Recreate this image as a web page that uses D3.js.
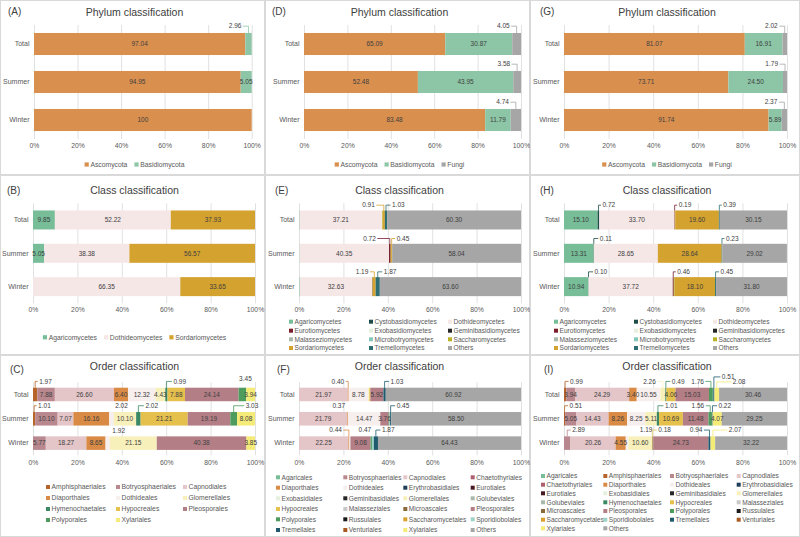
<!DOCTYPE html>
<html>
<head>
<meta charset="utf-8"/>
<script src="https://d3js.org/d3.v7.min.js"></script>
<style>
    body { margin: 0; background: #fff; }
    svg { display: block; font-family: "Liberation Sans", Arial, sans-serif; }
</style>
</head>
<body>
<script>
    var width = 800, height = 537;

    // categories on the y axis of every panel
    var seasons = ["Total", "Summer", "Winter"];
    var xTicks = [0, 20, 40, 60, 80, 100];

    // (A) phylum
    var phylumA = ["Ascomycota", "Basidiomycota"];
    var valuesA = [
        {Ascomycota: 97.04, Basidiomycota: 2.96},
        {Ascomycota: 94.95, Basidiomycota: 5.05},
        {Ascomycota: 100}
    ];

    // (B) class
    var classB = ["Agaricomycetes", "Dothideomycetes", "Sordariomycetes"];
    var valuesB = [
        {Agaricomycetes: 9.85, Dothideomycetes: 52.22, Sordariomycetes: 37.93},
        {Agaricomycetes: 5.05, Dothideomycetes: 38.38, Sordariomycetes: 56.57},
        {Dothideomycetes: 66.35, Sordariomycetes: 33.65}
    ];

    // (C) order
    var orderC = ["Amphisphaeriales", "Botryosphaeriales", "Capnodiales", "Diaporthales", "Dothideales",
        "Glomerellales", "Hymenochaetales", "Hypocreales", "Pleosporales", "Polyporales", "Xylariales"];
    var valuesC = [
        {Amphisphaeriales: 1.97, Botryosphaeriales: 7.88, Capnodiales: 26.60, Diaporthales: 6.40, Dothideales: 12.32,
            Glomerellales: 4.43, Hymenochaetales: 0.99, Hypocreales: 7.88, Pleosporales: 24.14, Polyporales: 3.45, Xylariales: 3.94},
        {Amphisphaeriales: 1.01, Botryosphaeriales: 10.10, Capnodiales: 7.07, Diaporthales: 16.16, Dothideales: 2.02,
            Glomerellales: 10.10, Hymenochaetales: 2.02, Hypocreales: 21.21, Pleosporales: 19.19, Polyporales: 3.03, Xylariales: 8.08},
        {Botryosphaeriales: 5.77, Capnodiales: 18.27, Diaporthales: 8.65, Dothideales: 1.92,
            Glomerellales: 21.15, Pleosporales: 40.38, Xylariales: 3.85}
    ];

    // (D) phylum
    var phylumD = ["Ascomycota", "Basidiomycota", "Fungi"];
    var valuesD = [
        {Ascomycota: 65.09, Basidiomycota: 30.87, Fungi: 4.05},
        {Ascomycota: 52.48, Basidiomycota: 43.95, Fungi: 3.58},
        {Ascomycota: 83.48, Basidiomycota: 11.79, Fungi: 4.74}
    ];

    // (E) class
    var classE = ["Agaricomycetes", "Cystobasidiomycetes", "Dothideomycetes", "Eurotiomycetes", "Exobasidiomycetes",
        "Geminibasidiomycetes", "Malasseziomycetes", "Microbotryomycetes", "Saccharomycetes", "Sordariomycetes",
        "Tremellomycetes", "Others"];
    var valuesE = [
        {Agaricomycetes: 0.25, Dothideomycetes: 37.21, Saccharomycetes: 0.30, Sordariomycetes: 0.91, Tremellomycetes: 1.03, Others: 60.30},
        {Agaricomycetes: 0.20, Dothideomycetes: 40.35, Eurotiomycetes: 0.72, Saccharomycetes: 0.24, Sordariomycetes: 0.45, Others: 58.04},
        {Agaricomycetes: 0.30, Dothideomycetes: 32.63, Eurotiomycetes: 0.21, Saccharomycetes: 0.20, Sordariomycetes: 1.19, Tremellomycetes: 1.87, Others: 63.60}
    ];

    // (F) order
    var orderF = ["Agaricales", "Botryosphaeriales", "Capnodiales", "Chaetothyriales", "Diaporthales", "Dothideales",
        "Erythrobasidiales", "Eurotiales", "Exobasidiales", "Geminibasidiales", "Glomerellales", "Golubeviales",
        "Hypocreales", "Malasseziales", "Microascales", "Pleosporales", "Polyporales", "Russulales",
        "Saccharomycetales", "Sporidiobolales", "Tremellales", "Venturiales", "Xylariales", "Others"];
    var valuesF = [
        {Capnodiales: 21.97, Diaporthales: 0.40, Dothideales: 8.78, Glomerellales: 0.50, Hypocreales: 0.48, Pleosporales: 5.92, Tremellales: 1.03, Others: 60.92},
        {Capnodiales: 21.79, Diaporthales: 0.37, Dothideales: 14.47, Pleosporales: 3.76, Polyporales: 0.36, Sporidiobolales: 0.30, Tremellales: 0.45, Others: 58.50},
        {Capnodiales: 22.25, Diaporthales: 0.44, Dothideales: 0.47, Pleosporales: 9.08, Polyporales: 0.60, Sporidiobolales: 0.86, Tremellales: 1.87, Others: 64.43}
    ];

    // (G) phylum
    var phylumG = ["Ascomycota", "Basidiomycota", "Fungi"];
    var valuesG = [
        {Ascomycota: 81.07, Basidiomycota: 16.91, Fungi: 2.02},
        {Ascomycota: 73.71, Basidiomycota: 24.50, Fungi: 1.79},
        {Ascomycota: 91.74, Basidiomycota: 5.89, Fungi: 2.37}
    ];

    // (H) class
    var classH = ["Agaricomycetes", "Cystobasidiomycetes", "Dothideomycetes", "Eurotiomycetes", "Exobasidiomycetes",
        "Geminibasidiomycetes", "Malasseziomycetes", "Microbotryomycets", "Saccharomycetes", "Sordariomycetes",
        "Tremellomycetes", "Others"];
    var valuesH = [
        {Agaricomycetes: 15.10, Cystobasidiomycetes: 0.72, Dothideomycetes: 33.70, Eurotiomycetes: 0.19, Saccharomycetes: 0.15, Sordariomycetes: 19.60, Tremellomycetes: 0.39, Others: 30.15},
        {Agaricomycetes: 13.31, Cystobasidiomycetes: 0.11, Dothideomycetes: 28.65, Sordariomycetes: 28.64, Tremellomycetes: 0.23, Others: 29.02},
        {Agaricomycetes: 10.94, Cystobasidiomycetes: 0.10, Dothideomycetes: 37.72, Eurotiomycetes: 0.46, Saccharomycetes: 0.43, Sordariomycetes: 18.10, Tremellomycetes: 0.45, Others: 31.80}
    ];

    // (I) order
    var orderI = ["Agaricales", "Amphisphaeriales", "Botryosphaeriales", "Capnodiales", "Chaetothyriales", "Diaporthales",
        "Dothideales", "Erythrobasidiales", "Eurotiales", "Exobasidiales", "Geminibasidiales", "Glomerellales",
        "Golubeviales", "Hymenochaetales", "Hypocreales", "Malasseziales", "Microascales", "Pleosporales",
        "Polyporales", "Russulales", "Saccharomycetales", "Sporidiobolales", "Tremellales", "Venturiales",
        "Xylariales", "Others"];
    var valuesI = [
        {Amphisphaeriales: 0.99, Botryosphaeriales: 3.94, Capnodiales: 24.29, Diaporthales: 3.40, Dothideales: 10.55, Glomerellales: 2.26,
            Hymenochaetales: 0.49, Hypocreales: 4.06, Pleosporales: 15.03, Polyporales: 1.76, Sporidiobolales: 0.18, Tremellales: 0.51, Xylariales: 2.08, Others: 30.46},
        {Amphisphaeriales: 0.51, Botryosphaeriales: 5.05, Capnodiales: 14.43, Diaporthales: 8.26, Dothideales: 8.25, Glomerellales: 5.11,
            Hymenochaetales: 1.01, Hypocreales: 10.69, Pleosporales: 11.48, Polyporales: 1.56, Sporidiobolales: 0.11, Tremellales: 0.22, Xylariales: 4.07, Others: 29.25},
        {Botryosphaeriales: 2.89, Capnodiales: 20.26, Diaporthales: 4.55, Dothideales: 1.19, Glomerellales: 10.60,
            Hypocreales: 0.18, Microascales: 0.37, Pleosporales: 24.73, Tremellales: 0.94, Xylariales: 2.07, Others: 32.22}
    ];

    // colours by taxon
    var colors = {
        Ascomycota: "#d98f4e", Basidiomycota: "#8dc6a6", Fungi: "#a6a6a6",
        Agaricomycetes: "#76bd98", Cystobasidiomycetes: "#1e4d48", Dothideomycetes: "#f6e7e7",
        Eurotiomycetes: "#7a1e2e", Exobasidiomycetes: "#e6f0df", Geminibasidiomycetes: "#262626",
        Malasseziomycetes: "#a9b8aa", Microbotryomycetes: "#83c8ba", Microbotryomycets: "#83c8ba",
        Saccharomycetes: "#b9b226", Sordariomycetes: "#d4a22e", Tremellomycetes: "#2e6e72", Others: "#a6a6a6",
        Agaricales: "#76bd98", Amphisphaeriales: "#b7642a", Botryosphaeriales: "#b9888e", Capnodiales: "#e4c5c8",
        Chaetothyriales: "#ad5f6d", Diaporthales: "#d98b45", Dothideales: "#f7eeee", Erythrobasidiales: "#1f3e5a",
        Eurotiales: "#4a1a24", Exobasidiales: "#e6f0df", Geminibasidiales: "#262626", Glomerellales: "#f8f0ba",
        Golubeviales: "#a9b8aa", Hymenochaetales: "#3b8964", Hypocreales: "#e6c04c", Malasseziales: "#c8c8c8",
        Microascales: "#8a6a3a", Pleosporales: "#b47e86", Polyporales: "#4e9b5e", Russulales: "#1a1a1a",
        Saccharomycetales: "#d9a030", Sporidiobolales: "#a0d3c8", Tremellales: "#1f5a6e", Venturiales: "#a85a22",
        Xylariales: "#f5eb78"
    };

    // labels of small segments drawn above the bar, with a leader line
    var calloutsA = [{cat: "Total", key: "Basidiomycota", dx: -7, anchor: "end"}];
    var calloutsC = [
        {cat: "Total", key: "Amphisphaeriales", dx: 4, anchor: "start"},
        {cat: "Total", key: "Hymenochaetales", dx: 7, anchor: "start"},
        {cat: "Total", key: "Polyporales", dx: 3, anchor: "middle", dy: -3},
        {cat: "Summer", key: "Amphisphaeriales", dx: 4, anchor: "start"},
        {cat: "Summer", key: "Dothideales", dx: 10, anchor: "middle"},
        {cat: "Summer", key: "Hymenochaetales", dx: 7, anchor: "start"},
        {cat: "Summer", key: "Polyporales", dx: 12, anchor: "start"},
        {cat: "Winter", key: "Dothideales", dx: 11, anchor: "middle", dy: 1}
    ];
    var calloutsD = [
        {cat: "Total", key: "Fungi", dx: -7, anchor: "end"},
        {cat: "Summer", key: "Fungi", dx: -7, anchor: "end"},
        {cat: "Winter", key: "Fungi", dx: -7, anchor: "end"}
    ];
    var calloutsE = [
        {cat: "Total", key: "Sordariomycetes", dx: -9, anchor: "end"},
        {cat: "Total", key: "Tremellomycetes", dx: 6, anchor: "start"},
        {cat: "Summer", key: "Eurotiomycetes", dx: -14, anchor: "end"},
        {cat: "Summer", key: "Sordariomycetes", dx: 5, anchor: "start"},
        {cat: "Winter", key: "Sordariomycetes", dx: -6, anchor: "end"},
        {cat: "Winter", key: "Tremellomycetes", dx: 6, anchor: "start"}
    ];
    var calloutsF = [
        {cat: "Total", key: "Diaporthales", dx: -4, anchor: "end"},
        {cat: "Total", key: "Tremellales", dx: 6, anchor: "start"},
        {cat: "Summer", key: "Diaporthales", dx: -9, anchor: "middle"},
        {cat: "Summer", key: "Tremellales", dx: 6, anchor: "start"},
        {cat: "Winter", key: "Diaporthales", dx: -7, anchor: "end"},
        {cat: "Winter", key: "Dothideales", dx: 15, anchor: "middle"},
        {cat: "Winter", key: "Tremellales", dx: 6, anchor: "start"}
    ];
    var calloutsH = [
        {cat: "Total", key: "Cystobasidiomycetes", dx: 4, anchor: "start"},
        {cat: "Total", key: "Eurotiomycetes", dx: 4, anchor: "start"},
        {cat: "Total", key: "Tremellomycetes", dx: 4, anchor: "start"},
        {cat: "Summer", key: "Cystobasidiomycetes", dx: 6, anchor: "start"},
        {cat: "Summer", key: "Tremellomycetes", dx: 4, anchor: "start"},
        {cat: "Winter", key: "Cystobasidiomycetes", dx: 6, anchor: "start"},
        {cat: "Winter", key: "Eurotiomycetes", dx: 4, anchor: "start"},
        {cat: "Winter", key: "Tremellomycetes", dx: 5, anchor: "start"}
    ];
    var calloutsI = [
        {cat: "Total", key: "Amphisphaeriales", dx: 5, anchor: "start"},
        {cat: "Total", key: "Glomerellales", dx: -7, anchor: "end"},
        {cat: "Total", key: "Hymenochaetales", dx: 6, anchor: "start"},
        {cat: "Total", key: "Polyporales", dx: -7, anchor: "end"},
        {cat: "Total", key: "Tremellales", dx: 8, anchor: "start", dy: -4.5},
        {cat: "Total", key: "Xylariales", dx: 16, anchor: "start", dy: 0.5},
        {cat: "Summer", key: "Amphisphaeriales", dx: 5, anchor: "start"},
        {cat: "Summer", key: "Hymenochaetales", dx: 7, anchor: "start"},
        {cat: "Summer", key: "Polyporales", dx: -6, anchor: "end"},
        {cat: "Summer", key: "Tremellales", dx: 6, anchor: "start"},
        {cat: "Winter", key: "Botryosphaeriales", dx: 5, anchor: "start"},
        {cat: "Winter", key: "Dothideales", dx: 19, anchor: "middle"},
        {cat: "Winter", key: "Hypocreales", dx: 6, anchor: "start"},
        {cat: "Winter", key: "Tremellales", dx: -7, anchor: "end"},
        {cat: "Winter", key: "Xylariales", dx: 16, anchor: "start"}
    ];

    // layout of the 3x3 grid
    var colX = [0, 265, 530, 800];
    var rowY = [0, 175, 355, 537];
    var row1 = {yr: [25, 139], pad: 0.42, tickPad: 4.3, gap: 4.5, titleY: 12.7, letterY: 11};
    var row2 = {yr: [203.3, 303.3], pad: 0.43, tickPad: 4, gap: 3, titleY: 190, letterY: 190};
    var row3 = {yr: [382.3, 455.3], pad: 0.444, tickPad: 5, gap: 4, titleY: 366.7, letterY: 369};

    var panels = [
        {letter: "(A)", lx: 8, title: "Phylum classification", col: 0, row: 0, r: row1, xr: [34, 251.7],
            keys: phylumA, values: valuesA, callouts: calloutsA, legend: {type: "row", y: 164.5, fs: 6.8}},
        {letter: "(B)", lx: 7, title: "Class classification", col: 0, row: 1, r: row2, xr: [33, 255],
            keys: classB, values: valuesB, callouts: [], legend: {type: "row", y: 337.3, fs: 6.8}},
        {letter: "(C)", lx: 10, title: "Order classification", col: 0, row: 2, r: row3, xr: [33, 255],
            keys: orderC, values: valuesC, callouts: calloutsC,
            legend: {type: "grid", cols: [46, 116, 183], rows: [487, 498, 509, 520], fs: 6.8}},
        {letter: "(D)", lx: 7, title: "Phylum classification", col: 1, row: 0, r: row1, xr: [304, 521],
            keys: phylumD, values: valuesD, callouts: calloutsD, legend: {type: "row", y: 164.5, fs: 6.8}},
        {letter: "(E)", lx: 10, title: "Class classification", col: 1, row: 1, r: row2, xr: [299, 521],
            keys: classE, values: valuesE, callouts: calloutsE,
            legend: {type: "grid", cols: [289, 369, 448], rows: [321.7, 330.7, 339.3, 348], fs: 6.6}},
        {letter: "(F)", lx: 12, title: "Order classification", col: 1, row: 2, r: row3, xr: [299, 521],
            keys: orderF, values: valuesF, callouts: calloutsF,
            legend: {type: "grid", cols: [276, 343.3, 403.3, 470.7], rows: [477.3, 487.7, 498.3, 509, 519.3, 530], fs: 6.6}},
        {letter: "(G)", lx: 10, title: "Phylum classification", col: 2, row: 0, r: row1, xr: [564, 787],
            keys: phylumG, values: valuesG, callouts: calloutsD, legend: {type: "row", y: 164.5, fs: 6.8}},
        {letter: "(H)", lx: 10, title: "Class classification", col: 2, row: 1, r: row2, xr: [564, 787],
            keys: classH, values: valuesH, callouts: calloutsH,
            legend: {type: "grid", cols: [554, 634, 713], rows: [321.7, 330.7, 339.3, 348], fs: 6.6}},
        {letter: "(I)", lx: 14, title: "Order classification", col: 2, row: 2, r: row3, xr: [564, 787],
            keys: orderI, values: valuesI, callouts: calloutsI,
            legend: {type: "grid", cols: [541, 603.3, 670, 736.7], rows: [476, 484.7, 493.3, 502.3, 511, 519.7, 528.3], fs: 6.6}}
    ];

    var svg = d3.select("body").append("svg")
        .attr("width", width)
        .attr("height", height);

    svg.append("rect").attr("width", width).attr("height", height).attr("fill", "#fff");

    function fmt(v) {
        return v === 100 ? "100" : v.toFixed(2);
    }

    panels.forEach(drawPanel);

    function drawPanel(p) {
        var bx = colX[p.col], bx2 = colX[p.col + 1], by = rowY[p.row], by2 = rowY[p.row + 1];
        var g = svg.append("g");
        var r = p.r;

        g.append("rect")
            .attr("x", bx + 0.5).attr("y", by + 0.5)
            .attr("width", bx2 - bx - 1).attr("height", by2 - by - 1)
            .attr("fill", "none").attr("stroke", "#d9d9d9");

        var x = d3.scaleLinear().domain([0, 100]).range(p.xr);
        var y = d3.scaleBand().domain(seasons).range(r.yr)
            .paddingInner(r.pad).paddingOuter(r.pad / 2);

        // gridlines + % labels
        var ax = g.append("g")
            .attr("transform", "translate(0," + r.yr[1] + ")")
            .call(d3.axisBottom(x).tickValues(xTicks).tickFormat(function (d) { return d + "%"; })
                .tickSize(-(r.yr[1] - r.yr[0])).tickPadding(r.tickPad));
        ax.select(".domain").remove();
        ax.selectAll("line").attr("stroke", "#d9d9d9").attr("stroke-width", 0.8);
        ax.selectAll("text").attr("fill", "#595959").attr("font-size", 6.8)
            .attr("font-family", "Liberation Sans, Arial, sans-serif");

        var ay = g.append("g")
            .attr("transform", "translate(" + p.xr[0] + ",0)")
            .call(d3.axisLeft(y).tickSize(0).tickPadding(4.5));
        ay.select(".domain").remove();
        ay.selectAll("text").attr("fill", "#595959").attr("font-size", 7)
            .attr("font-family", "Liberation Sans, Arial, sans-serif");

        // stacked bars
        var rows = p.values.map(function (v, i) {
            return Object.assign({cat: seasons[i]}, v);
        });
        var stacked = d3.stack().keys(p.keys)
            .value(function (d, k) { return d[k] || 0; })(rows);

        var seg = {};
        var outside = {};
        p.callouts.forEach(function (c) { outside[c.cat + "|" + c.key] = true; });

        stacked.forEach(function (layer) {
            layer.forEach(function (d) {
                seg[d.data.cat + "|" + layer.key] = d;
            });
            g.append("g").selectAll("rect")
                .data(layer.filter(function (d) { return d[1] > d[0]; }))
                .join("rect")
                .attr("x", function (d) { return x(d[0]); })
                .attr("y", function (d) { return y(d.data.cat); })
                .attr("width", function (d) { return x(d[1]) - x(d[0]); })
                .attr("height", y.bandwidth())
                .attr("fill", colors[layer.key]);
        });

        // value labels inside the larger segments
        stacked.forEach(function (layer) {
            g.append("g").selectAll("text")
                .data(layer.filter(function (d) {
                    return d[1] - d[0] >= 3 && !outside[d.data.cat + "|" + layer.key];
                }))
                .join("text")
                .attr("x", function (d) { return x((d[0] + d[1]) / 2); })
                .attr("y", function (d) { return y(d.data.cat) + y.bandwidth() / 2; })
                .attr("dy", "0.35em")
                .attr("text-anchor", "middle")
                .attr("font-size", 6.5)
                .attr("fill", "#404040")
                .text(function (d) { return fmt(d[1] - d[0]); });
        });

        // callouts for the small ones
        p.callouts.forEach(function (c) {
            var d = seg[c.cat + "|" + c.key];
            if (!d) return;
            var cx = x((d[0] + d[1]) / 2);
            var top = y(c.cat);
            var base = top - r.gap + (c.dy || 0);
            var mid = base - 2.3;
            var tx = cx + c.dx;
            if (c.anchor !== "middle") {
                var ex = c.anchor === "start" ? tx - 1.5 : tx + 1.5;
                g.append("path")
                    .attr("d", "M" + ex + "," + mid + "L" + cx + "," + mid + "L" + cx + "," + top)
                    .attr("fill", "none")
                    .attr("stroke", colors[c.key])
                    .attr("stroke-width", 0.8);
            }
            g.append("text")
                .attr("x", tx).attr("y", base)
                .attr("text-anchor", c.anchor)
                .attr("font-size", 6.5)
                .attr("fill", "#404040")
                .text(fmt(d[1] - d[0]));
        });

        // title and panel letter
        g.append("text")
            .attr("x", (bx + bx2) / 2 + 2).attr("y", r.titleY).attr("dy", "0.35em")
            .attr("text-anchor", "middle").attr("font-size", 10.5).attr("fill", "#404040")
            .text(p.title);
        g.append("text")
            .attr("x", bx + p.lx).attr("y", r.letterY).attr("dy", "0.35em")
            .attr("font-size", 10).attr("fill", "#404040")
            .text(p.letter);

        // legend
        var L = p.legend;
        if (L.type === "row") {
            var lg = g.append("g");
            var pos = 0;
            p.keys.forEach(function (k) {
                var it = lg.append("g").attr("transform", "translate(" + pos + ",0)");
                it.append("rect").attr("x", 0).attr("y", -2.1).attr("width", 4.2).attr("height", 4.2)
                    .attr("fill", colors[k]);
                var t = it.append("text").attr("x", 5.8).attr("dy", "0.35em")
                    .attr("font-size", L.fs).attr("fill", "#595959").text(k);
                pos += 5.8 + t.node().getComputedTextLength() + 7;
            });
            var w = pos - 7;
            lg.attr("transform", "translate(" + ((bx + bx2) / 2 + 2 - w / 2) + "," + L.y + ")");
        } else {
            var nc = L.cols.length;
            g.append("g").selectAll("g")
                .data(p.keys)
                .join("g")
                .attr("transform", function (k, i) {
                    return "translate(" + L.cols[i % nc] + "," + L.rows[Math.floor(i / nc)] + ")";
                })
                .each(function (k) {
                    var it = d3.select(this);
                    it.append("rect").attr("x", 0).attr("y", -2).attr("width", 4).attr("height", 4)
                        .attr("fill", colors[k]);
                    it.append("text").attr("x", 5.5).attr("dy", "0.35em")
                        .attr("font-size", L.fs).attr("fill", "#595959").text(k);
                });
        }
    }
</script>
</body>
</html>
